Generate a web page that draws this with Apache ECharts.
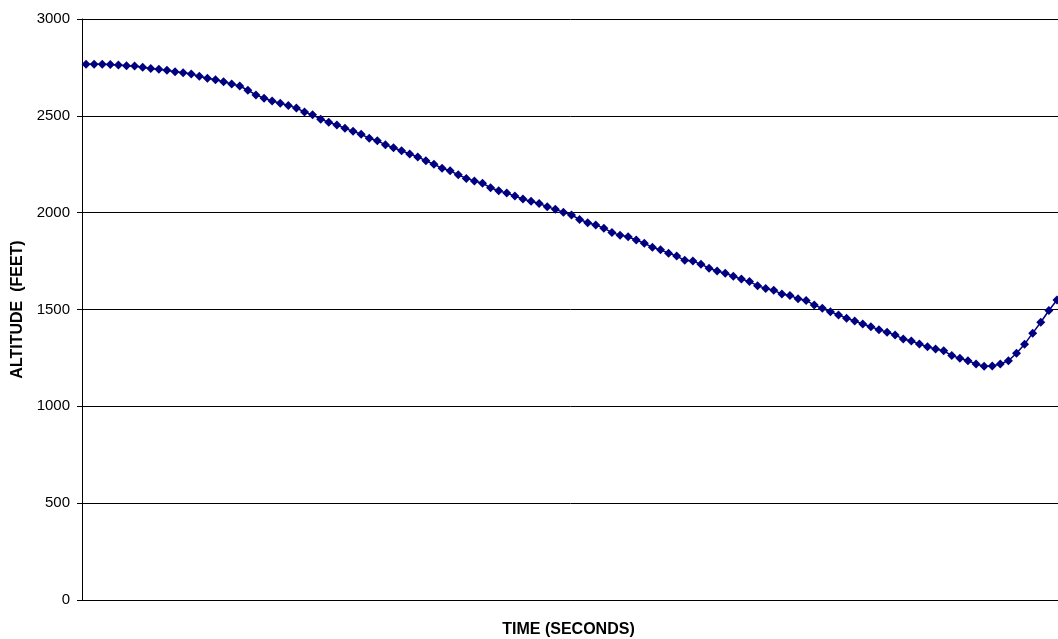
<!DOCTYPE html>
<html>
<head>
<meta charset="utf-8">
<script src="https://cdn.jsdelivr.net/npm/echarts@6/dist/echarts.min.js"></script>
<style>
  html, body { margin: 0; padding: 0; background: #ffffff; overflow: hidden; }
  #chart { width: 1058px; height: 639px; }
</style>
</head>
<body>
<div id="chart"></div>
<script>
// Altitude (feet) sampled at regular time steps
const altitude = [
  2766, 2766, 2766, 2765, 2762, 2759, 2757, 2751, 2744, 2740,
  2735, 2728, 2723, 2716, 2704, 2694, 2686, 2676, 2664, 2654,
  2632, 2608, 2591, 2577, 2565, 2554, 2540, 2520, 2505, 2483,
  2467, 2453, 2436, 2420, 2405, 2384, 2371, 2351, 2335, 2320,
  2303, 2288, 2268, 2250, 2229, 2216, 2196, 2177, 2164, 2152,
  2129, 2113, 2101, 2086, 2070, 2059, 2047, 2031, 2017, 2002,
  1988, 1965, 1948, 1936, 1920, 1897, 1884, 1876, 1859, 1842,
  1821, 1808, 1791, 1776, 1754, 1750, 1734, 1713, 1699, 1687,
  1672, 1657, 1644, 1623, 1609, 1599, 1580, 1572, 1556, 1547,
  1523, 1506, 1488, 1472, 1455, 1441, 1425, 1411, 1396, 1383,
  1368, 1348, 1337, 1322, 1308, 1296, 1287, 1262, 1248, 1235,
  1219, 1207, 1208, 1219, 1235, 1274, 1321, 1378, 1434, 1495,
  1549
];
const timeSteps = altitude.map((_, i) => String(i + 1));
const yTicks = { min: 0, max: 3000, interval: 500 };
const xTitle = 'TIME (SECONDS)';
const yTitle = 'ALTITUDE  (FEET)';

const chart = echarts.init(document.getElementById('chart'), null, { renderer: 'canvas' });
chart.setOption({
  animation: false,
  backgroundColor: '#ffffff',
  grid: { left: 82, top: 19, bottom: 39, width: 979, containLabel: false, outerBoundsMode: 'none' },
  xAxis: {
    type: 'category',
    data: timeSteps,
    boundaryGap: true,
    name: xTitle,
    nameLocation: 'middle',
    nameGap: 22,
    nameTextStyle: { fontFamily: 'Liberation Sans, Arial, sans-serif', fontSize: 16, fontWeight: 'bold', color: '#000', padding: [0, 6, 0, 0] },
    axisLine: { show: true, lineStyle: { color: '#000', width: 1 } },
    axisTick: { show: false },
    axisLabel: { show: false },
    splitLine: { show: false }
  },
  yAxis: {
    type: 'value',
    min: yTicks.min,
    max: yTicks.max,
    interval: yTicks.interval,
    name: yTitle,
    nameLocation: 'middle',
    nameRotate: 90,
    nameGap: 54,
    nameTextStyle: { fontFamily: 'Liberation Sans, Arial, sans-serif', fontSize: 16, fontWeight: 'bold', color: '#000' },
    axisLine: { show: true, lineStyle: { color: '#000', width: 1 } },
    axisTick: { show: true, inside: false, length: 5, lineStyle: { color: '#000' } },
    axisLabel: {
      margin: 12, fontFamily: 'Liberation Sans, Arial, sans-serif', fontSize: 15, color: '#000',
      formatter: v => String(v)
    },
    splitLine: { show: true, lineStyle: { color: '#000', width: 1 } }
  },
  series: [{
    type: 'line',
    data: altitude,
    symbol: 'diamond',
    symbolSize: 9,
    showSymbol: true,
    showAllSymbol: true,
    itemStyle: { color: '#000080' },
    lineStyle: { color: '#000080', width: 1.5 }
  }]
});
</script>
</body>
</html>
